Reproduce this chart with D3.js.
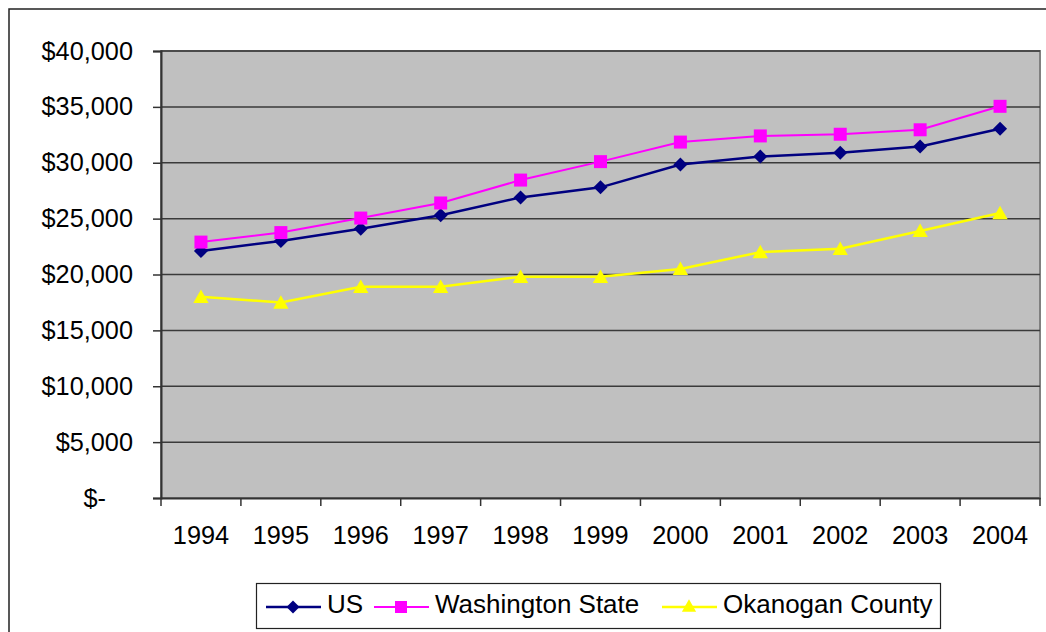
<!DOCTYPE html>
<html>
<head>
<meta charset="utf-8">
<script src="https://cdn.jsdelivr.net/npm/d3@7"></script>
<style>
    body { margin: 0; background: #fff; }
    svg { display: block; font-family: "Liberation Sans", Arial, sans-serif; }
</style>
</head>
<body>
<div id="chart"></div>
<script>
var years = ["1994","1995","1996","1997","1998","1999","2000","2001","2002","2003","2004"];
var usValues = [22100, 23000, 24100, 25300, 26900, 27800, 29850, 30550, 30900, 31450, 33050];
var waValues = [22900, 23750, 25050, 26400, 28450, 30100, 31850, 32400, 32550, 32950, 35050];
var okValues = [18000, 17500, 18900, 18900, 19800, 19800, 20500, 22000, 22300, 23900, 25500];
var yTicks = [0, 5000, 10000, 15000, 20000, 25000, 30000, 35000, 40000];
var seriesNames = ["US", "Washington State", "Okanogan County"];

(function(){

    var width = 1046, height = 632;
    var plot = {left: 161, right: 1040, top: 51, bottom: 498};

    var series = [
        {name: seriesNames[0], values: usValues, color: "#000080", marker: "diamond", lw: 2.5},
        {name: seriesNames[1], values: waValues, color: "#ff00ff", marker: "square", lw: 2},
        {name: seriesNames[2], values: okValues, color: "#ffff00", marker: "triangle", lw: 2.5}
    ];

    function markerPath(type, s){
        if (type === "diamond"){
            return "M0," + (-s) + "L" + s + ",0L0," + s + "L" + (-s) + ",0Z";
        } else if (type === "square"){
            return "M" + (-s) + "," + (-s) + "H" + s + "V" + s + "H" + (-s) + "Z";
        } else {
            return "M0," + (-s) + "L" + (s * 1.05) + "," + (s * 0.85) + "L" + (-s * 1.05) + "," + (s * 0.85) + "Z";
        }
    }
    function markerSize(type){
        if (type === "diamond"){ return 7; }
        if (type === "square"){ return 6.5; }
        return 7.3;
    }

    var svg = d3.select("#chart").append("svg")
        .attr("width", width)
        .attr("height", height);

    // outer chart frame (runs off the picture on the right and bottom)
    svg.append("rect")
        .attr("x", 9).attr("y", 9)
        .attr("width", 1060).attr("height", 640)
        .attr("fill", "none")
        .attr("stroke", "#222")
        .attr("stroke-width", 1.5);

    var x = d3.scaleBand()
        .domain(years)
        .range([plot.left, plot.right]);

    var y = d3.scaleLinear()
        .domain([0, 40000])
        .range([plot.bottom, plot.top]);

    // plot background
    svg.append("rect")
        .attr("x", plot.left).attr("y", plot.top)
        .attr("width", plot.right - plot.left)
        .attr("height", plot.bottom - plot.top)
        .attr("fill", "#c0c0c0")
        .attr("stroke", "#808080")
        .attr("stroke-width", 2);

    // gridlines
    svg.append("g")
        .selectAll("line")
        .data(yTicks.slice(1))
        .enter()
        .append("line")
        .attr("x1", plot.left).attr("x2", plot.right)
        .attr("y1", function(d){ return y(d); })
        .attr("y2", function(d){ return y(d); })
        .attr("stroke", "#3a3a3a")
        .attr("stroke-width", 1.5);

    // y axis
    var yAxis = d3.axisLeft(y)
        .tickValues(yTicks)
        .tickSize(8)
        .tickPadding(20)
        .tickFormat(function(d){ return d === 0 ? "$-" : "$" + d3.format(",")(d); });
    var yG = svg.append("g")
        .attr("transform", "translate(" + plot.left + ",0)")
        .call(yAxis);
    yG.select(".domain").attr("stroke", "#333").attr("stroke-width", 2);
    yG.selectAll(".tick line").attr("stroke", "#333").attr("stroke-width", 1.5);
    yG.selectAll(".tick text")
        .attr("font-size", 25.3)
        .attr("fill", "#000")
        .attr("font-family", "Liberation Sans, Arial, sans-serif")
        .attr("dx", function(d){ return d === 0 ? -27 : 0; });

    // x axis
    var xAxis = d3.axisBottom(x)
        .tickSize(0)
        .tickPadding(28);
    var xG = svg.append("g")
        .attr("transform", "translate(0," + plot.bottom + ")")
        .call(xAxis);
    xG.select(".domain").attr("stroke", "#333").attr("stroke-width", 2);
    xG.selectAll(".tick text")
        .attr("font-size", 25.3)
        .attr("fill", "#000")
        .attr("font-family", "Liberation Sans, Arial, sans-serif");
    // ticks sit between the categories
    xG.selectAll(".boundary")
        .data(years.concat(["end"]))
        .enter()
        .append("line")
        .attr("class", "boundary")
        .attr("x1", function(d, i){ return plot.left + i * x.step(); })
        .attr("x2", function(d, i){ return plot.left + i * x.step(); })
        .attr("y1", 0).attr("y2", 8)
        .attr("stroke", "#333")
        .attr("stroke-width", 1.5);

    var line = d3.line()
        .x(function(d, i){ return x(years[i]) + x.bandwidth() / 2; })
        .y(function(d){ return y(d); });

    series.forEach(function(s){
        svg.append("path")
            .datum(s.values)
            .attr("d", line)
            .attr("fill", "none")
            .attr("stroke", s.color)
            .attr("stroke-width", s.lw);
        svg.append("g")
            .selectAll("path")
            .data(s.values)
            .enter()
            .append("path")
            .attr("d", markerPath(s.marker, markerSize(s.marker)))
            .attr("transform", function(d, i){
                return "translate(" + (x(years[i]) + x.bandwidth() / 2) + "," + y(d) + ")";
            })
            .attr("fill", s.color);
    });

    // legend
    var legend = svg.append("g");
    legend.append("rect")
        .attr("x", 256.5).attr("y", 583.5)
        .attr("width", 684).attr("height", 45)
        .attr("fill", "#fff")
        .attr("stroke", "#222")
        .attr("stroke-width", 1.2);

    var legendX = [266, 374, 662];
    series.forEach(function(s, i){
        var lx = legendX[i];
        legend.append("line")
            .attr("x1", lx).attr("x2", lx + 55)
            .attr("y1", 607).attr("y2", 607)
            .attr("stroke", s.color)
            .attr("stroke-width", s.lw);
        legend.append("path")
            .attr("d", markerPath(s.marker, markerSize(s.marker) - 0.5))
            .attr("transform", "translate(" + (lx + 27) + "," + (s.marker === "triangle" ? 606 : 607) + ")")
            .attr("fill", s.color);
        legend.append("text")
            .attr("x", lx + 61)
            .attr("y", 612.5)
            .attr("font-size", 26)
            .attr("fill", "#000")
            .text(s.name);
    });

})();
</script>
</body>
</html>
